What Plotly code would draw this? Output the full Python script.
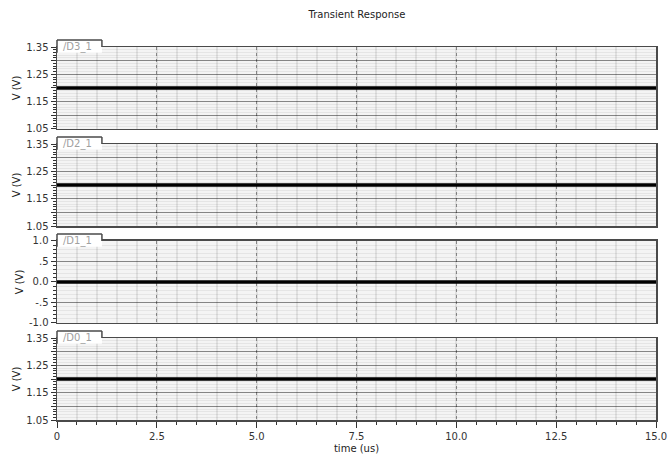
import plotly.graph_objects as go

# ---- data ----
time_us = [0.0, 15.0]
signals = ["/D3_1", "/D2_1", "/D1_1", "/D0_1"]
values = {
    "/D3_1": [1.2, 1.2],
    "/D2_1": [1.2, 1.2],
    "/D1_1": [0.0, 0.0],
    "/D0_1": [1.2, 1.2],
}
y_ranges = {
    "/D3_1": [1.05, 1.35],
    "/D2_1": [1.05, 1.35],
    "/D1_1": [-1.0, 1.0],
    "/D0_1": [1.05, 1.35],
}
v_tickvals = [1.05, 1.10, 1.15, 1.20, 1.25, 1.30, 1.35]
v_ticktext = ["1.05", "", "1.15", "", "1.25", "", "1.35"]
d1_tickvals = [-1.0, -0.5, 0.0, 0.5, 1.0]
d1_ticktext = ["-1.0", "-.5", "0.0", ".5", "1.0"]
x_tickvals = [0, 2.5, 5.0, 7.5, 10.0, 12.5, 15.0]
x_ticktext = ["0", "2.5", "5.0", "7.5", "10.0", "12.5", "15.0"]

FONT = "DejaVu Sans"
fig = go.Figure()

# panel domains (top to bottom)
domains = [[0.7802, 1.0], [0.5201, 0.7399], [0.2601, 0.4799], [0.0, 0.2198]]

W, H = 668, 460
layout = dict(
    width=W, height=H,
    margin=dict(l=57, r=12, t=47, b=40),
    paper_bgcolor="white",
    plot_bgcolor="#f4f4f4",
    showlegend=False,
    font=dict(family=FONT, size=10, color="#333"),
    title=dict(text="Transient Response", x=357 / W, xanchor="center",
               y=1 - 14 / H, yanchor="middle",
               font=dict(family=FONT, size=10, color="#222")),
)

shapes = []
annotations = []
for i, name in enumerate(signals):
    n = i + 1
    xa = "x" if n == 1 else f"x{n}"
    ya = "y" if n == 1 else f"y{n}"
    xkey = "xaxis" if n == 1 else f"xaxis{n}"
    ykey = "yaxis" if n == 1 else f"yaxis{n}"
    fig.add_trace(go.Scatter(x=time_us, y=values[name], mode="lines",
                             line=dict(color="black", width=3.5),
                             xaxis=xa, yaxis=ya, hoverinfo="skip"))
    bottom = (n == 4)
    layout[xkey] = dict(
        domain=[0, 1], anchor=ya, range=[0, 15], automargin=False,
        tickmode="array", tickvals=x_tickvals, ticktext=x_ticktext,
        showticklabels=bottom,
        ticks="outside" if bottom else "", ticklen=6, tickcolor="#333",
        showgrid=True, gridcolor="rgba(0,0,0,0.40)", gridwidth=1, griddash="dot",
        minor=dict(dtick=0.5, tick0=0, showgrid=True,
                   gridcolor="rgba(0,0,0,0.08)", griddash="solid",
                   gridwidth=2, ticks="outside" if bottom else "",
                   ticklen=3, tickcolor="#333"),
        showline=True, linecolor="#4a4a4a", linewidth=1.5, mirror=True,
        zeroline=False, fixedrange=True,
        title=dict(text="time (us)" if bottom else "", standoff=4,
                   font=dict(size=10, color="#222")),
    )
    if name == "/D1_1":
        tv, tt, mdt, mt0 = d1_tickvals, d1_ticktext, 0.1, -1.0
    else:
        tv, tt, mdt, mt0 = v_tickvals, v_ticktext, 0.01, 1.05
    layout[ykey] = dict(
        domain=domains[i], anchor=xa, range=y_ranges[name], automargin=False,
        tickmode="array", tickvals=tv, ticktext=tt,
        ticks="outside", ticklen=5, tickcolor="#333",
        showgrid=True, gridcolor="rgba(0,0,0,0.42)", gridwidth=1.2,
        minor=dict(dtick=mdt, tick0=mt0, showgrid=True,
                   gridcolor="rgba(0,0,0,0.06)",
                   gridwidth=1, ticks="outside", ticklen=3, tickcolor="#333"),
        showline=True, linecolor="#4a4a4a", linewidth=1.5, mirror=True,
        zeroline=False, fixedrange=True,
        title=dict(text="V (V)", standoff=3, font=dict(size=10, color="#222")),
    )
    # tab label box
    xd = f"{xa} domain"
    yd = f"{ya} domain"
    shapes.append(dict(type="rect", xref=xd, yref=yd, x0=0.0, x1=0.075,
                       y0=0.93, y1=1.085, fillcolor="white",
                       line=dict(width=0), layer="above"))
    for (x0, y0, x1, y1) in [(0.0, 0.93, 0.0, 1.085), (0.0, 1.085, 0.075, 1.085),
                             (0.075, 1.085, 0.075, 1.0)]:
        shapes.append(dict(type="line", xref=xd, yref=yd, x0=x0, y0=y0,
                           x1=x1, y1=y1, line=dict(color="#4a4a4a", width=1.5),
                           layer="above"))
    annotations.append(dict(text=name, xref=xd, yref=yd, x=0.006, y=1.005,
                            xanchor="left", yanchor="middle", showarrow=False,
                            font=dict(family=FONT, size=10, color="#a0a0a0")))

layout["shapes"] = shapes
layout["annotations"] = annotations
fig.update_layout(**layout)
fig.write_html("out.html",
               config={"displayModeBar": False, "staticPlot": True},
               post_script="document.body.style.margin='0';"
                           "document.body.style.overflow='hidden';")
